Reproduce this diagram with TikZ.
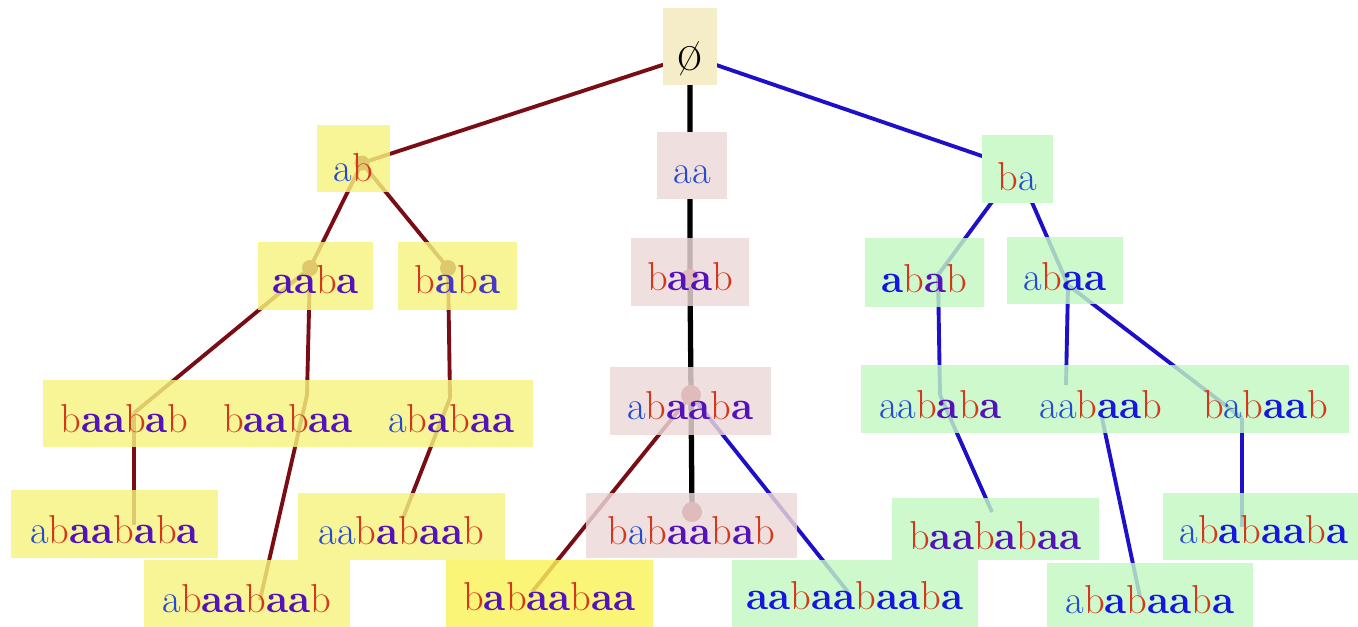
\documentclass[tikz,border=0pt]{standalone}
\usepackage{fontspec}
\definecolor{ca}{RGB}{36,74,208}
\definecolor{cb}{RGB}{212,56,28}
\definecolor{cp}{RGB}{84,18,186}
\definecolor{cq}{RGB}{22,22,222}
\definecolor{cm}{RGB}{70,55,200}
\definecolor{lred}{RGB}{122,12,20}
\definecolor{lblue}{RGB}{30,16,200}
\definecolor{fy}{RGB}{246,244,127}
\definecolor{fyy}{RGB}{249,242,90}
\definecolor{fp}{RGB}{237,216,216}
\definecolor{fg}{RGB}{194,248,194}
\definecolor{fpo}{RGB}{240,223,223}
\definecolor{fgo}{RGB}{205,249,205}
\definecolor{fe}{RGB}{245,237,200}
\definecolor{dotc}{RGB}{160,60,60}
\newcommand\xa{{\color{ca}a}}
\newcommand\xb{{\color{cb}b}}
\newcommand\xp{{\color{cp}\bfseries a}}
\newcommand\xq{{\color{cq}\bfseries a}}
\newcommand\xm{{\color{cm}\bfseries a}}
\begin{document}
\begin{tikzpicture}[x=0.02cm, y=-0.02cm,
  font=\fontsize{23}{28}\selectfont,
  box/.style={anchor=base, inner sep=0pt, outer sep=0pt, minimum height=0pt, fill opacity=0.82, text opacity=1},
  hd/.style 2 args={text height=#1, text depth=#2},
  yb/.style={box, fill=fy},
  yyb/.style={box, fill=fyy},
  pb/.style={box, fill=fp},
  gb/.style={box, fill=fg},
  ob/.style={anchor=base, inner sep=0pt, outer sep=0pt, minimum height=0pt},
  redge/.style={draw=lred, line width=2.2pt},
  kedge/.style={draw=black, line width=3pt},
  bedge/.style={draw=lblue, line width=2.2pt},
  rdot/.style={fill=lred},
  kdot/.style={fill=dotc}]
\fill[white] (0,0) rectangle (1358,626);
\useasboundingbox (0,0) rectangle (1358,626);

% junction coordinates
\coordinate (jE) at (690,56);
\coordinate (jAB) at (362,163);
\coordinate (jAABA) at (310,268);
\coordinate (jBABA) at (448,268);
\coordinate (jBAABAB) at (134,413);
\coordinate (jBAABAA) at (307,395);
\coordinate (jABABAA) at (450,398);
\coordinate (eABAABABA) at (134,525);
\coordinate (eABAABAAB) at (260,600);
\coordinate (eAABABAAB) at (403,518);
\coordinate (jBAAB) at (690,278);
\coordinate (jABAABA) at (691,395);
\coordinate (jBABAABAB) at (692,512);
\coordinate (eBABAABAA) at (532,592);
\coordinate (eAABAABAABA) at (848,592);
\coordinate (jBA) at (1017,168);
\coordinate (jABAB) at (938,275);
\coordinate (jABAA) at (1068,285);
\coordinate (jAABABA) at (940,395);
\coordinate (eBAABABAA) at (992,512);
\coordinate (jAABAABin) at (1066,385);
\coordinate (jAABAABout) at (1102,418);
\coordinate (eABABAABAb) at (1140,597);
\coordinate (jBABAAB) at (1242,418);
\coordinate (eABABAABAr) at (1242,527);

% edges
\draw[redge] (jE) -- (jAB);
\draw[redge] (jAB) -- (jAABA);
\draw[redge] (jAB) -- (jBABA);
\draw[redge] (jAABA) -- (jBAABAB);
\draw[redge] (jAABA) -- (jBAABAA);
\draw[redge] (jBAABAB) -- (eABAABABA);
\draw[redge] (jBAABAA) -- (eABAABAAB);
\draw[redge] (jBABA) -- (jABABAA);
\draw[redge] (jABABAA) -- (eAABABAAB);
\draw[redge] (jABAABA) -- (eBABAABAA);
\draw[kedge] (jE) -- (jBAAB) -- (jABAABA) -- (jBABAABAB);
\draw[bedge] (jE) -- (jBA);
\draw[bedge] (jBA) -- (jABAB);
\draw[bedge] (jBA) -- (jABAA);
\draw[bedge] (jABAB) -- (jAABABA);
\draw[bedge] (jAABABA) -- (eBAABABAA);
\draw[bedge] (jABAA) -- (jAABAABin);
\draw[bedge] (jAABAABout) -- (eABABAABAb);
\draw[bedge] (jABAA) -- (jBABAAB);
\draw[bedge] (jBABAAB) -- (eABABAABAr);
\draw[bedge] (jABAABA) -- (eAABAABAABA);

% dots
\fill[rdot] (jAB) circle[radius=0.15cm];
\fill[rdot] (jAABA) circle[radius=0.16cm];
\fill[rdot] (jBABA) circle[radius=0.16cm];
\fill[kdot] (jBAAB) circle[radius=0.18cm];
\fill[kdot] (jABAABA) circle[radius=0.2cm];
\fill[kdot] (jBABAABAB) circle[radius=0.2cm];

% nodes
\node[ob, fill=fe, minimum width=1.08cm, hd={1.24cm}{0.30cm}] (nE) at (690,70) {\fontsize{31}{34}\selectfont ø};
\node[yb, minimum width=1.46cm, hd={1.12cm}{0.22cm}] (nAB) at (353.5,181) {\xa\xb};
\node[ob, fill=fpo, minimum width=1.40cm, hd={1.02cm}{0.32cm}] (nAA) at (692,183) {\xa\xa};
\node[ob, fill=fgo, minimum width=1.42cm, hd={1.10cm}{0.26cm}] (nBA) at (1017.5,190) {\xb\xa};

\node[yb, minimum width=2.30cm, hd={1.02cm}{0.34cm}] (nAABA) at (315.5,293) {\xp\xp\xb\xp};
\node[yb, minimum width=2.38cm, hd={1.02cm}{0.34cm}] (nBABA) at (457.5,293) {\xb\xm\xb\xm};
\node[pb, minimum width=2.36cm, hd={1.04cm}{0.32cm}] (nBAAB) at (690,290) {\xb\xp\xp\xb};
\node[gb, minimum width=2.38cm, hd={1.08cm}{0.30cm}] (nABAB) at (924.5,292) {\xq\xb\xp\xb};
\node[gb, minimum width=2.32cm, hd={1.06cm}{0.28cm}] (nABAA) at (1065,290) {\xa\xb\xq\xq};

\node[yb, minimum width=3.26cm, hd={1.04cm}{0.30cm}] (nBAABAB) at (124.5,432) {\xb\xp\xp\xb\xp\xb};
\node[yb, minimum width=3.28cm, hd={1.04cm}{0.30cm}] (nBAABAA) at (288,432) {\xb\xp\xp\xb\xp\xp};
\node[yb, minimum width=3.26cm, hd={1.04cm}{0.30cm}] (nABABAA) at (451.5,432) {\xa\xb\xp\xb\xp\xp};
\node[pb, minimum width=3.22cm, hd={1.04cm}{0.32cm}] (nABAABA) at (690.5,419) {\xa\xb\xp\xp\xb\xp};
\node[gb, minimum width=3.18cm, hd={1.06cm}{0.30cm}] (nAABABA) at (940.5,418) {\xa\xa\xb\xp\xb\xp};
\node[gb, minimum width=3.24cm, hd={1.06cm}{0.30cm}] (nAABAAB) at (1101,418) {\xa\xa\xb\xq\xq\xb};
\node[gb, minimum width=3.34cm, hd={1.06cm}{0.30cm}] (nBABAAB) at (1265.5,418) {\xb\xa\xb\xq\xq\xb};

\node[yb, minimum width=4.14cm, hd={1.06cm}{0.30cm}] (nABAABABA) at (114.5,543) {\xa\xb\xp\xp\xb\xp\xb\xp};
\node[yb, minimum width=4.14cm, hd={1.02cm}{0.32cm}] (nAABABAAB) at (401.5,544) {\xa\xa\xb\xp\xb\xp\xp\xb};
\node[pb, minimum width=4.22cm, hd={1.02cm}{0.28cm}] (nBABAABAB) at (691.5,544) {\xb\xa\xb\xp\xp\xb\xp\xb};
\node[gb, minimum width=4.14cm, hd={1.02cm}{0.22cm}] (nBAABABAA) at (995.5,549) {\xb\xp\xp\xb\xp\xb\xp\xp};
\node[gb, minimum width=4.04cm, hd={1.00cm}{0.34cm}] (nABABAABAr) at (1264,543) {\xa\xb\xq\xb\xq\xq\xb\xq};

\node[yb, minimum width=4.12cm, hd={1.04cm}{0.36cm}] (nABAABAAB) at (247,612) {\xa\xb\xp\xp\xb\xp\xp\xb};
\node[yyb, minimum width=4.14cm, hd={1.00cm}{0.40cm}] (nBABAABAA) at (549.5,610) {\xb\xp\xb\xp\xp\xb\xp\xp};
\node[gb, minimum width=4.92cm, hd={0.98cm}{0.42cm}] (nAABAABAABA) at (855,609) {\xq\xq\xb\xq\xq\xb\xq\xq\xb\xq};
\node[gb, minimum width=4.12cm, hd={1.00cm}{0.34cm}] (nABABAABAb) at (1150,613) {\xa\xb\xq\xb\xq\xq\xb\xq};
\end{tikzpicture}
\end{document}
